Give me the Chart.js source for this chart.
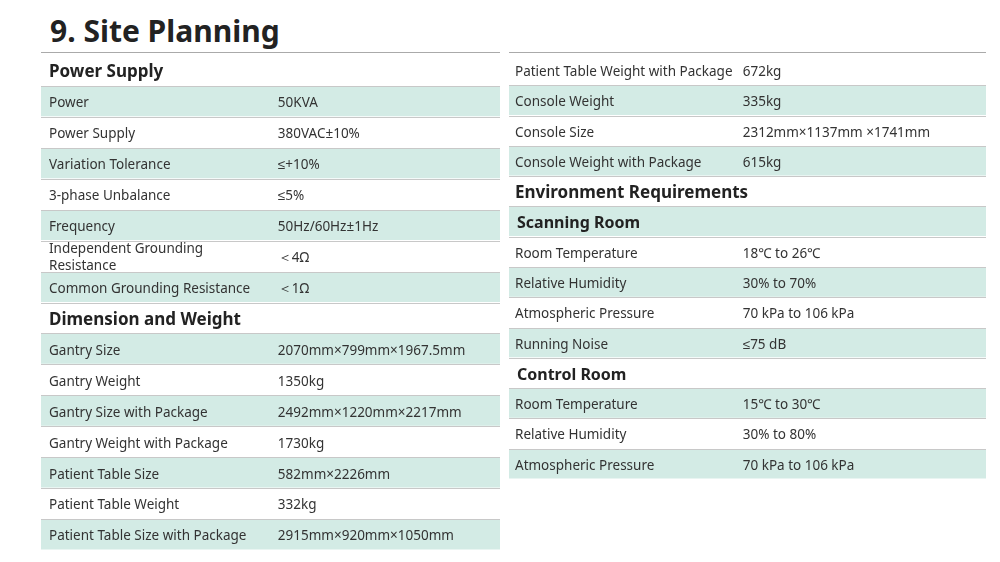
<!DOCTYPE html>
<html>
<head>
<meta charset="utf-8">
<script src="https://cdn.jsdelivr.net/npm/chart.js@4/dist/chart.umd.min.js"></script>
<style>
  body { margin: 0; width: 1000px; height: 562px; background: #fff; position: relative; overflow: hidden; font-family: "Noto Sans", sans-serif; }
  h1 { position: absolute; left: 50px; top: 10px; margin: 0; font-size: 30px; font-weight: bold; color: #222; }
  .rule { position: absolute; top: 52px; height: 1px; background: #aaa; }
  .box { position: absolute; }
</style>
</head>
<body>
<h1>9. Site Planning</h1>
<div class="rule" style="left:41px;width:459px"></div>
<div class="rule" style="left:509px;width:477px"></div>
<div class="box" style="left:41px;top:55px;width:459px;height:495px"><canvas id="leftTable"></canvas></div>
<div class="box" style="left:509px;top:55px;width:477px;height:424px"><canvas id="rightTable"></canvas></div>
<script>
// row kinds: h = section header, sub = shaded sub header, s = shaded row, '' = plain row
const leftLabels = ['Power Supply', 'Power', 'Power Supply', 'Variation Tolerance', '3-phase Unbalance', 'Frequency',
  'Independent Grounding\nResistance', 'Common Grounding Resistance', 'Dimension and Weight', 'Gantry Size', 'Gantry Weight',
  'Gantry Size with Package', 'Gantry Weight with Package', 'Patient Table Size', 'Patient Table Weight', 'Patient Table Size with Package'];
const leftValues = ['', '50KVA', '380VAC±10%', '≤+10%', '≤5%', '50Hz/60Hz±1Hz', '＜4Ω', '＜1Ω', '',
  '2070mm×799mm×1967.5mm', '1350kg', '2492mm×1220mm×2217mm', '1730kg', '582mm×2226mm', '332kg', '2915mm×920mm×1050mm'];
const leftKinds = ['h', 's', '', 's', '', 's', '', 's', 'h', 's', '', 's', '', 's', '', 's'];

const rightLabels = ['Patient Table Weight with Package', 'Console Weight', 'Console Size', 'Console Weight with Package',
  'Environment Requirements', 'Scanning Room', 'Room Temperature', 'Relative Humidity', 'Atmospheric Pressure', 'Running Noise',
  'Control Room', 'Room Temperature', 'Relative Humidity', 'Atmospheric Pressure'];
const rightValues = ['672kg', '335kg', '2312mm×1137mm ×1741mm', '615kg', '', '', '18℃ to 26℃', '30% to 70%',
  '70 kPa to 106 kPa', '≤75 dB', '', '15℃ to 30℃', '30% to 80%', '70 kPa to 106 kPa'];
const rightKinds = ['', 's', '', 's', 'h', 'sub', '', 's', '', 's', 'h2', 's', '', 's'];

const shade = '#d3ebe5';

function makeTable(id, labels, values, kinds, valueX, labelPad, subPad) {
  const textPlugin = {
    id: 'rowText',
    afterDatasetsDraw(chart) {
      const ctx = chart.ctx, ys = chart.scales.y, xs = chart.scales.x;
      ctx.save();
      ctx.textBaseline = 'middle';
      labels.forEach((lab, i) => {
        const yc = ys.getPixelForValue(i);
        const y = yc + 2;
        const k = kinds[i];
        const half = (ys.getPixelForValue(1) - ys.getPixelForValue(0)) / 2;
        // row divider
        ctx.strokeStyle = '#c8c8c8';
        ctx.lineWidth = 1;
        ctx.beginPath();
        ctx.moveTo(xs.left, Math.round(yc + half) + 0.5);
        ctx.lineTo(xs.right, Math.round(yc + half) + 0.5);
        ctx.stroke();
        if (k === 'h' || k === 'h2' || k === 'sub') {
          ctx.fillStyle = '#222';
          ctx.font = (k === 'h' ? 'bold 17px' : 'bold 16px') + ' "Noto Sans", sans-serif';
          ctx.fillText(lab, xs.left + (k === 'h' ? labelPad : subPad), y);
          return;
        }
        ctx.fillStyle = '#333';
        ctx.font = '13.5px "Noto Sans", sans-serif';
        const lines = lab.split('\n');
        lines.forEach((ln, j) => ctx.fillText(ln, xs.left + labelPad, y + (j - (lines.length - 1) / 2) * 17));
        ctx.fillText(values[i], xs.getPixelForValue(valueX), y);
      });
      ctx.restore();
    }
  };
  new Chart(document.getElementById(id), {
    type: 'bar',
    data: {
      labels: labels,
      datasets: [{
        data: kinds.map(k => (k === 's' || k === 'sub') ? [0, 1] : null),
        backgroundColor: shade,
        barPercentage: 1,
        categoryPercentage: 0.96
      }]
    },
    options: {
      indexAxis: 'y',
      animation: false,
      responsive: true,
      maintainAspectRatio: false,
      layout: { padding: 0 },
      plugins: { legend: { display: false }, tooltip: { enabled: false } },
      scales: {
        x: { display: false, min: 0, max: 1 },
        y: { display: false }
      }
    },
    plugins: [textPlugin]
  });
}

makeTable('leftTable', leftLabels, leftValues, leftKinds, 0.516, 8, 8);
makeTable('rightTable', rightLabels, rightValues, rightKinds, 0.49, 6, 8);
</script>
</body>
</html>
